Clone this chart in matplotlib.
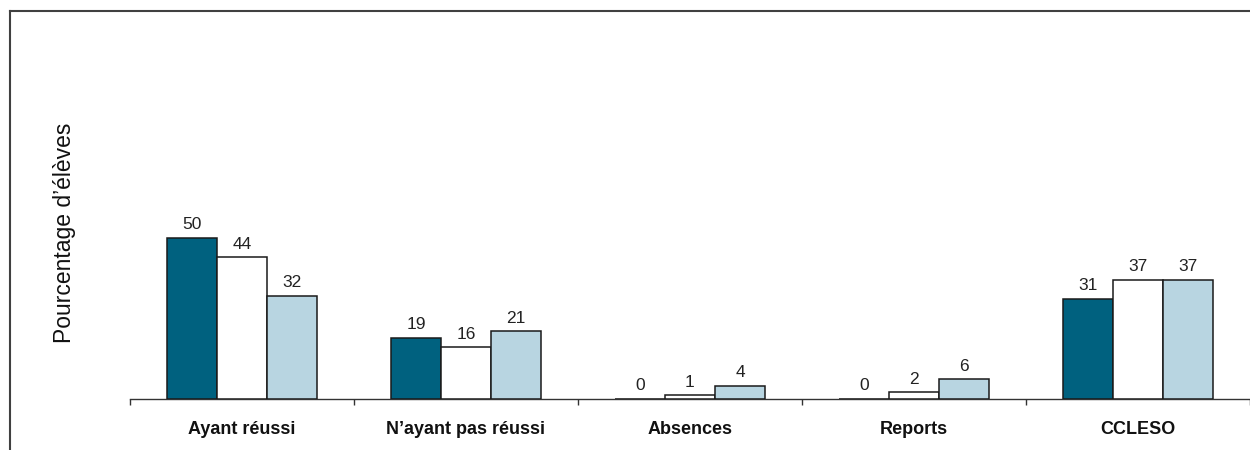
import matplotlib
matplotlib.use("Agg")
import matplotlib.pyplot as plt
from matplotlib.lines import Line2D
import numpy as np

categories = ["Ayant réussi", "N’ayant pas réussi", "Absences", "Reports", "CCLESO"]
series_1 = [50, 19, 0, 0, 31]
series_2 = [44, 16, 1, 2, 37]
series_3 = [32, 21, 4, 6, 37]
y_label = "Pourcentage d’élèves"

colors = ["#00617F", "#FFFFFF", "#B8D5E1"]

plt.rcParams['font.family'] = ['Liberation Sans', 'DejaVu Sans']

fig = plt.figure(figsize=(12.5, 4.5), dpi=100)
ax = fig.add_axes([130/1250, (450-398.5)/450, 1120/1250, 321/450])

x = np.arange(len(categories))
w = 50/224
for i, (vals, c) in enumerate(zip([series_1, series_2, series_3], colors)):
    pos = x + (i - 1) * w
    ax.bar(pos, vals, width=w, color=c, edgecolor="#1a1a1a", linewidth=1.1, zorder=3)
    for p, v in zip(pos, vals):
        ax.annotate(f"{v}", (p, v), xytext=(0, 4.0), textcoords="offset points",
                    ha="center", va="bottom", fontsize=12.5, color="#222222")

ax.set_xlim(-0.5, len(categories) - 0.5)
ax.set_ylim(0, 100)
for s in ["top", "right", "left"]:
    ax.spines[s].set_visible(False)
ax.spines["bottom"].set_color("#333333")
ax.spines["bottom"].set_linewidth(1.0)
ax.set_yticks([])
ax.set_xticks(x)
ax.set_xticklabels(categories, fontsize=13, fontweight="bold", color="#111111")
ax.tick_params(axis="x", which="major", length=0, pad=16)
ax.set_xticks(np.arange(len(categories) + 1) - 0.5, minor=True)
ax.tick_params(axis="x", which="minor", length=4, direction="out", color="#333333", width=1.0)

fig.text(64/1250, 1 - 233/450, y_label, rotation=90, ha="center", va="center",
         fontsize=16.5, color="#111111")

# outer frame (top and left edges visible)
fig.add_artist(Line2D([9.5/1250, 1.0], [1 - 10.5/450, 1 - 10.5/450], color="#404040", lw=1.5,
                      transform=fig.transFigure))
fig.add_artist(Line2D([9.5/1250, 9.5/1250], [0, 1 - 10.5/450], color="#404040", lw=1.5,
                      transform=fig.transFigure))

fig.savefig("out.png", dpi=100)
